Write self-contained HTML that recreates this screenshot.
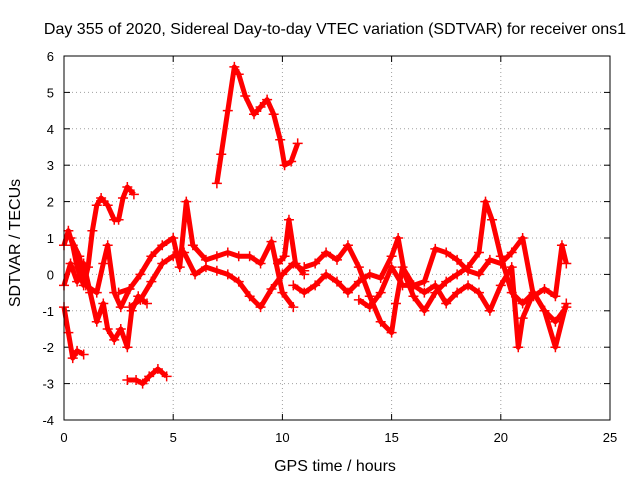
<!DOCTYPE html>
<html><head><meta charset="utf-8"><style>
body{margin:0;background:#fff}
svg{display:block;font-family:"Liberation Sans",sans-serif;font-size:13px}
</style></head><body>
<svg id="chart" width="640" height="480" viewBox="0 0 640 480">
<text x="335" y="34" text-anchor="middle" font-size="16">Day 355 of 2020, Sidereal Day-to-day VTEC variation (SDTVAR) for receiver ons1</text>
<text transform="translate(20,243) rotate(-90)" text-anchor="middle" font-size="16">SDTVAR / TECUs</text>
<text x="335" y="471" text-anchor="middle" font-size="16">GPS time / hours</text>
<g id="grid"></g>
<g id="ticks"></g>
<g id="series"></g>
<rect x="64" y="56" width="546" height="364" fill="none" stroke="#000" stroke-width="1"/>
</svg>
<script>
const xTicks=[0,5,10,15,20,25];
const yTicks=[-4,-3,-2,-1,0,1,2,3,4,5,6];
const trackA_t=[7.0,7.2,7.5,7.8,8.0,8.3,8.7,9.0,9.3,9.6,9.9,10.1,10.4,10.7];
const trackA_v=[2.5,3.3,4.5,5.7,5.5,4.9,4.4,4.6,4.8,4.4,3.7,3.0,3.1,3.6];
const trackB_t=[0,0.2,0.4,0.6,0.9,1.1,1.3,1.5,1.7,2.0,2.3,2.5,2.7,2.9,3.2];
const trackB_v=[0.8,1.2,0.8,0.2,-0.3,0.2,1.2,1.9,2.1,1.9,1.5,1.5,2.1,2.4,2.2];
const trackC_t=[0,0.2,0.4,0.6,0.9];
const trackC_v=[-0.9,-1.6,-2.3,-2.1,-2.2];
const trackD_t=[2.9,3.3,3.6,3.9,4.3,4.7];
const trackD_v=[-2.9,-2.9,-3.0,-2.8,-2.6,-2.8];
const trackE_t=[0,0.3,0.6,0.9,1.2,1.5,1.8,2.0,2.3,2.6,2.9,3.1,3.4,3.8];
const trackE_v=[-0.3,0.3,-0.2,0.3,-0.5,-1.3,-0.8,-1.5,-1.8,-1.5,-2.0,-1.0,-0.6,-0.8];
const trackF_t=[0.3,0.7,1.0,1.5,1.8,2.0,2.3,2.6,3.0];
const trackF_v=[1.0,0.5,-0.3,-0.5,0.3,0.8,-0.5,-0.9,-0.4];
const trackG_t=[2.5,3.0,3.5,4.0,4.5,5.0,5.3,5.6,5.9,6.5,7.0,7.5,8.0,8.5,9.0,9.5,10.0,10.5];
const trackG_v=[-0.5,-0.4,0.0,0.5,0.8,1.0,0.2,2.0,0.8,0.4,0.5,0.6,0.5,0.5,0.3,0.9,-0.5,-0.9];
const trackH_t=[3.0,3.5,4.0,4.5,5.0,5.5,6.0,6.5,7.0,7.5,8.0,8.5,9.0,9.5,10.0,10.5,11.0];
const trackH_v=[-0.9,-0.7,-0.2,0.3,0.5,0.6,0.0,0.2,0.1,0.0,-0.2,-0.6,-0.9,-0.4,0.0,0.3,0.1];
const trackI_t=[11.0,11.5,12.0,12.5,13.0,13.5,14.0,14.5,15.0,15.2,15.5,16.0,16.5,17.0,17.5,18.0,18.5,19.0,19.5,20.0,20.5,21.0,21.5,22.0,22.5,22.8,23.0];
const trackI_v=[0.2,0.3,0.6,0.4,0.8,0.2,-0.6,-1.3,-1.6,-0.8,0.2,-0.3,-0.2,0.7,0.6,0.4,0.1,0.0,0.4,0.3,0.6,1.0,-0.6,-0.4,-0.6,0.8,0.3];
const trackJ_t=[10.5,11.0,11.5,12.0,12.5,13.0,13.5,14.0,14.5,15.0,15.3,15.6,16.0,16.5,17.0,17.5,18.0,18.5,19.0,19.3,19.6,20.0,20.5,21.0,21.5,22.0,22.5,23.0];
const trackJ_v=[-0.3,-0.5,-0.3,0.0,-0.2,-0.5,-0.2,0.0,-0.1,0.5,1.0,0.0,-0.6,-1.0,-0.5,-0.2,0.0,0.2,0.6,2.0,1.5,0.5,-0.5,-0.8,-0.5,-1.0,-1.3,-0.9];
const trackK_t=[13.5,14.0,14.5,15.0,15.5,16.0,16.5,17.0,17.5,18.0,18.5,19.0,19.5,20.0,20.5,20.8,21.0,21.5,22.0,22.5,23.0];
const trackK_v=[-0.7,-0.9,-0.5,0.2,-0.3,-0.3,-0.5,-0.3,-0.8,-0.5,-0.3,-0.5,-1.0,-0.3,0.2,-2.0,-1.2,-0.5,-1.0,-2.0,-0.8];
const trackL_t=[9.8,10.1,10.3,10.6,11.0];
const trackL_v=[0.3,0.5,1.5,0.3,0.0];
const tracks=[[trackA_t,trackA_v],[trackB_t,trackB_v],[trackC_t,trackC_v],[trackD_t,trackD_v],[trackE_t,trackE_v],[trackF_t,trackF_v],[trackG_t,trackG_v],[trackH_t,trackH_v],[trackI_t,trackI_v],[trackJ_t,trackJ_v],[trackK_t,trackK_v],[trackL_t,trackL_v]];
const X0=64,X1=610,Y0=420,Y1=56;
function xs(t){return X0+(t-0)/(25-0)*(X1-X0);}
function ys(v){return Y0-(v+4)/(6+4)*(Y0-Y1);}
const NS="http://www.w3.org/2000/svg";
function mk(tag,attrs,parent){const e=document.createElementNS(NS,tag);for(const k in attrs)e.setAttribute(k,attrs[k]);parent.appendChild(e);return e;}
const grid=document.getElementById('grid'),ticks=document.getElementById('ticks'),series=document.getElementById('series');
xTicks.forEach(t=>{const x=xs(t);
 if(t>0&&t<25){const g=mk('line',{x1:x,x2:x,y1:Y1,y2:Y0,stroke:'#a0a0a0','stroke-dasharray':'1,3'},grid);
 
 }
 mk('line',{x1:x,x2:x,y1:Y0,y2:Y0-6,stroke:'#000'},ticks);
 mk('line',{x1:x,x2:x,y1:Y1,y2:Y1+6,stroke:'#000'},ticks);
 const l=mk('text',{x:x,y:Y0+22,'text-anchor':'middle'},ticks);l.textContent=t;
 
 
});
yTicks.forEach(v=>{const y=ys(v);
 if(v>-4&&v<6){const g=mk('line',{x1:X0,x2:X1,y1:y,y2:y,stroke:'#a0a0a0','stroke-dasharray':'1,3'},grid);
 
 }
 mk('line',{x1:X0,x2:X0+6,y1:y,y2:y,stroke:'#000'},ticks);
 mk('line',{x1:X1,x2:X1-6,y1:y,y2:y,stroke:'#000'},ticks);
 const l=mk('text',{x:X0-10,y:y+5,'text-anchor':'end'},ticks);l.textContent=v;
 
 
});
tracks.forEach((tr,i)=>{const [T,V]=tr;
 const pts=T.map((t,j)=>xs(t)+','+ys(V[j])).join(' ');
 const pl=mk('polyline',{points:pts,fill:'none',stroke:'#f00','stroke-width':5,'stroke-linejoin':'round'},series);
 
 
 T.forEach((t,j)=>{const x=xs(t),y=ys(V[j]);
  const p=mk('path',{d:`M${x-5},${y}H${x+5}M${x},${y-5}V${y+5}`,stroke:'#f00','stroke-width':1.5},series);
  
  
 });
});
</script>
</body></html>
